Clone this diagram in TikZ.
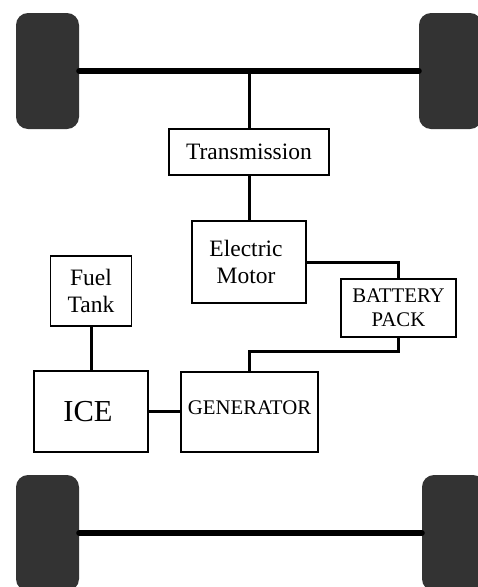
\documentclass[tikz,border=0pt]{standalone}
\usepackage{fontspec}
\setmainfont{Liberation Serif}
\begin{document}
\begin{tikzpicture}[x=1pt,y=-1pt,
  box/.style={draw=black,line width=1.8pt,fill=white,inner sep=0pt,align=center,text=black},
  bigtxt/.style={font=\fontsize{23.5}{27}\selectfont},
  midtxt/.style={font=\fontsize{20.8}{24}\selectfont},
  icetxt/.style={font=\fontsize{30.5}{34}\selectfont},
  wheel/.style={fill=wheelgray,rounded corners=12pt,inner sep=0pt,minimum width=63pt,minimum height=116pt},
  axle/.style={line width=6pt,line cap=round},
  link/.style={line width=3pt}]
\definecolor{wheelgray}{HTML}{333333}
\useasboundingbox (0,0) rectangle (478,587);
\clip (0,0) rectangle (478,587);
% wheels
\node[wheel] (wtl) at (47.5,71) {};
\node[wheel] (wtr) at (450.5,71) {};
\node[wheel] (wbl) at (47.5,533) {};
\node[wheel] (wbr) at (453.5,533) {};
% axles
\draw[axle] (wtl.east) -- (wtr.west);
\draw[axle] (wbl.east) -- (wbr.west);
% boxes
\node[box,bigtxt,minimum width=160pt,minimum height=46pt] (trans) at (249,152) {Transmission};
\node[box,bigtxt,minimum width=114pt,minimum height=82pt] (motor) at (249,262) {\hspace*{-6pt}Electric\\\hspace*{-6pt}Motor};
\node[box,midtxt,minimum width=115pt,minimum height=58pt] (bat) at (398.5,308) {BATTERY\\PACK};
\node[box,midtxt,minimum width=137pt,minimum height=80pt] (gen) at (249.5,412) {\raisebox{8pt}{GENERATOR}};
\node[box,icetxt,minimum width=114pt,minimum height=81pt] (ice) at (91,411.5) {\hspace*{-6pt}ICE};
\node[box,bigtxt,minimum width=81pt,minimum height=70pt] (fuel) at (91,291) {Fuel\\Tank};
% connectors
\draw[link] (trans.north) -- (trans.north |- wtl.east);
\draw[link] (trans.south) -- (motor.north);
\draw[link] (motor.east) -| (bat.north);
\draw[link] (bat.south) -- ++(0,14) -| (gen.north);
\draw[link] (ice.east) -- (ice.east -| gen.west);
\draw[link] (fuel.south) -- (ice.north);
\end{tikzpicture}
\end{document}
